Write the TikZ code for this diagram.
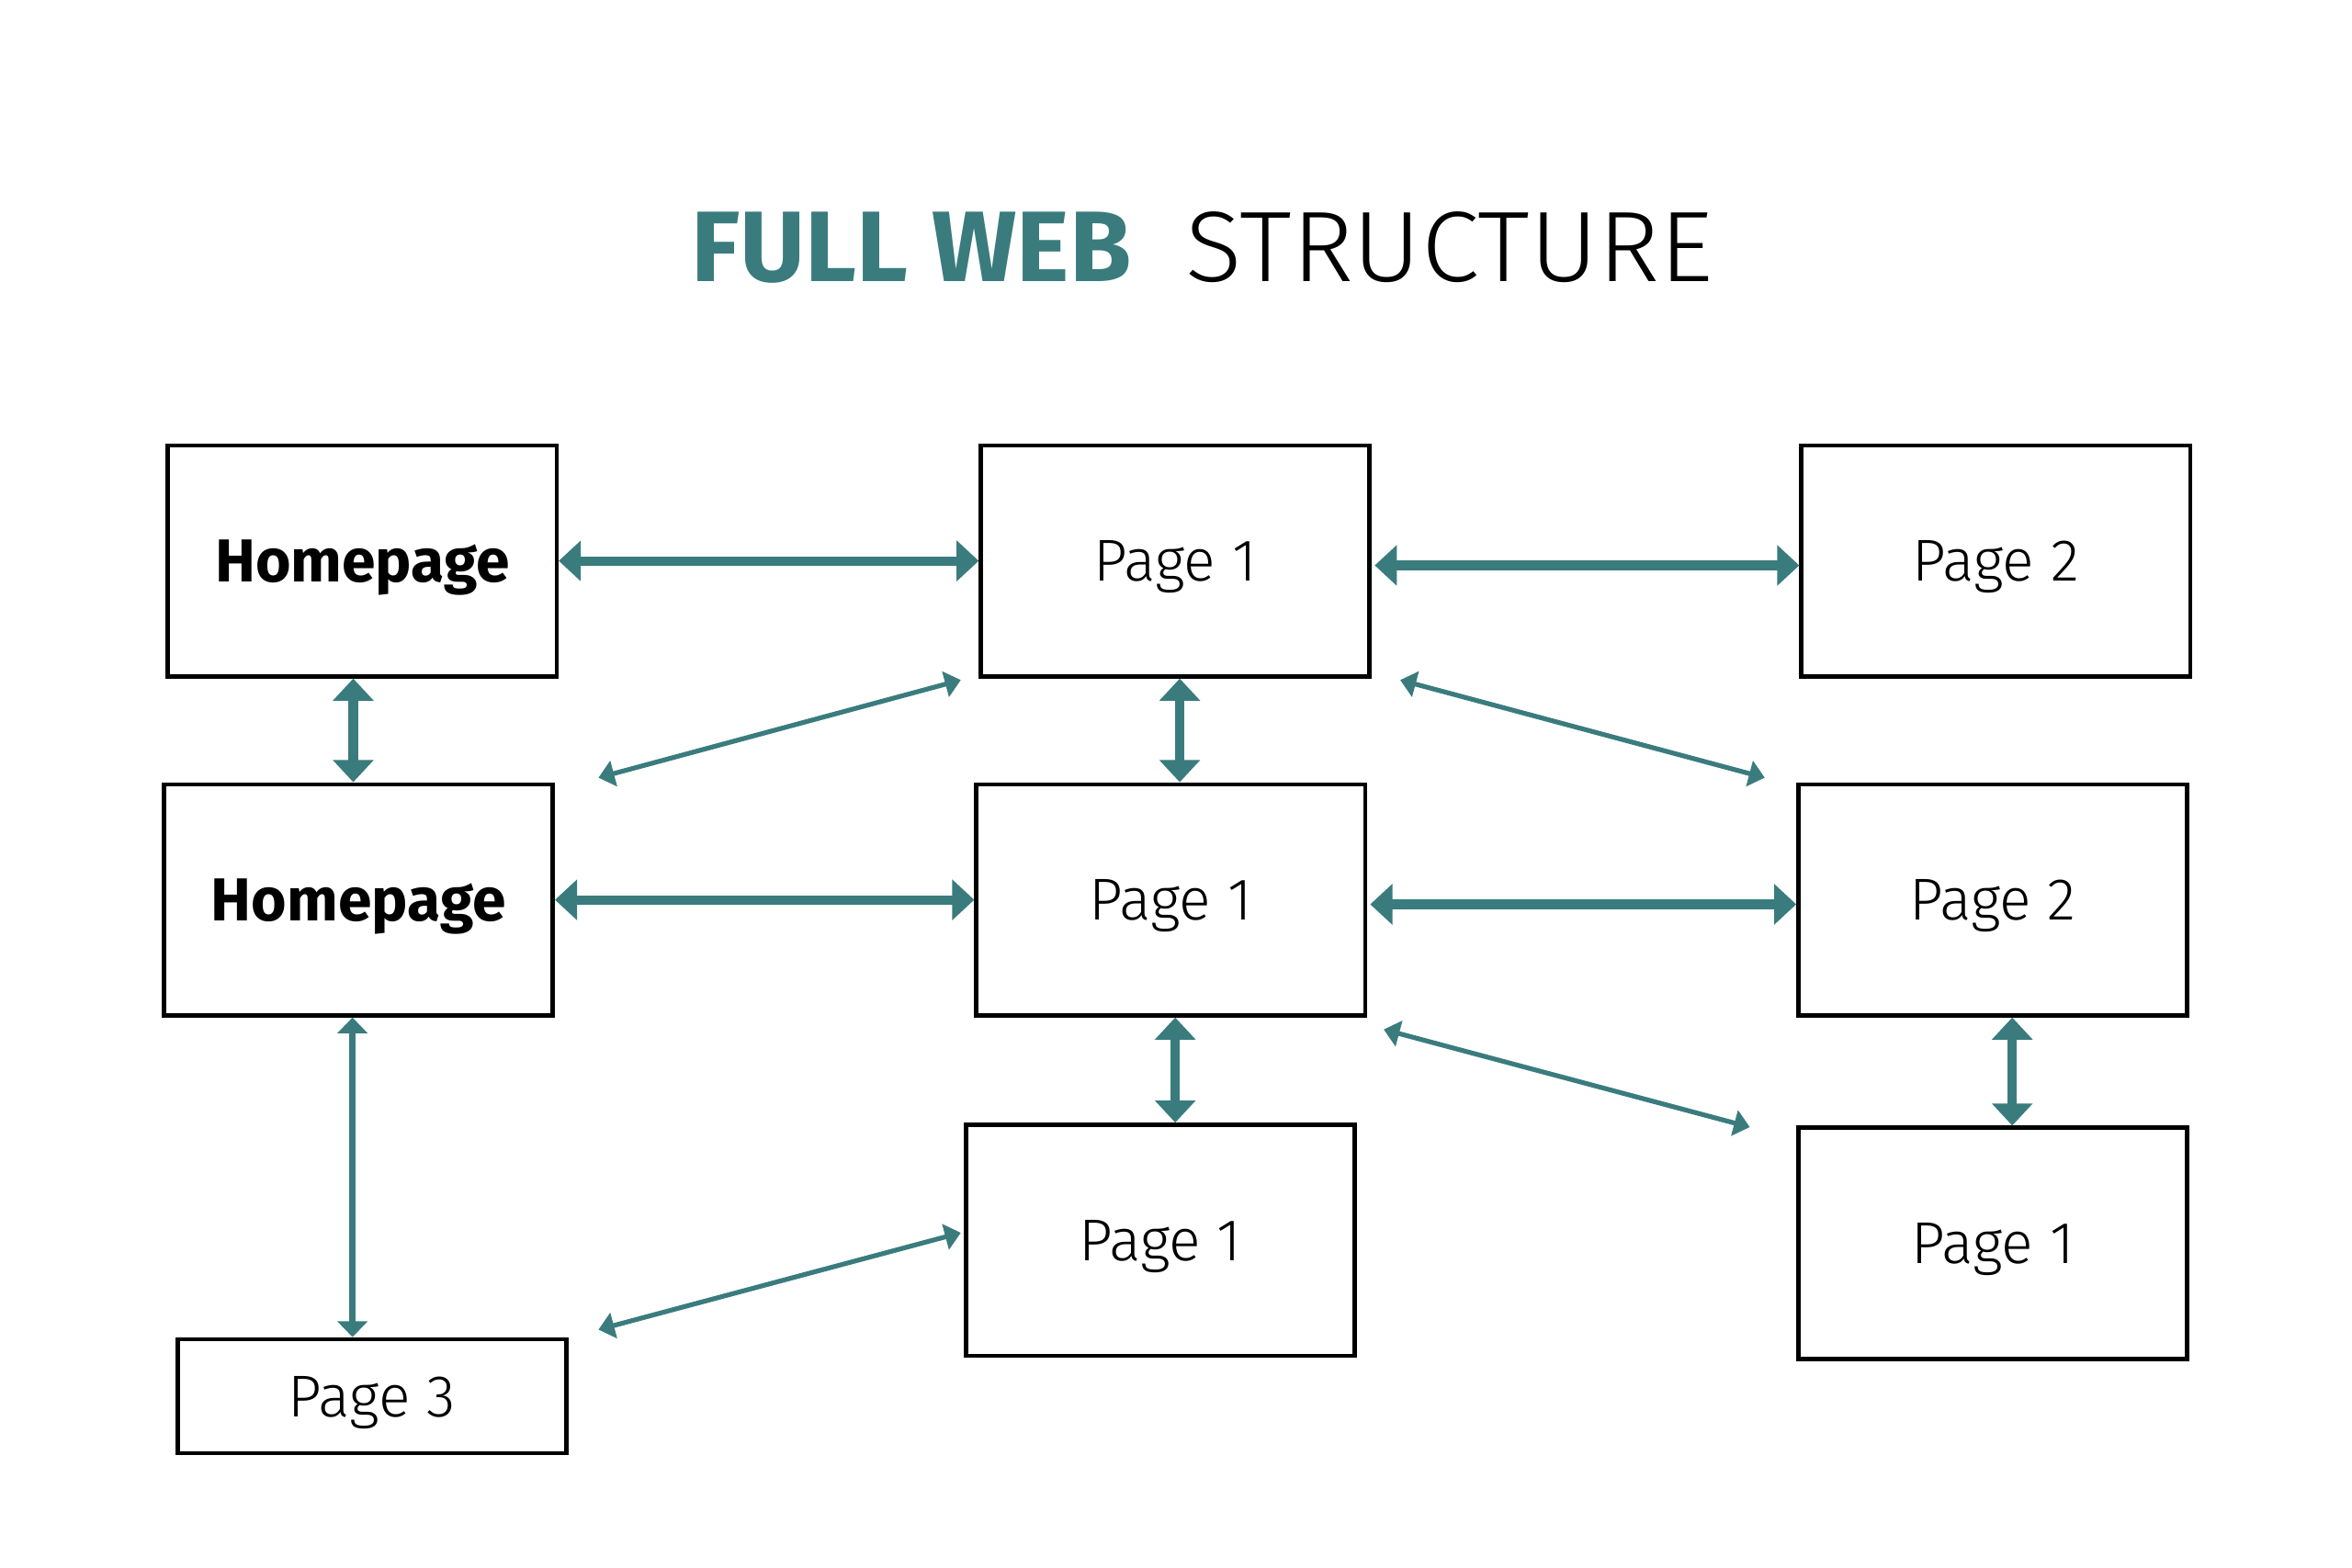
\documentclass[tikz,border=0pt]{standalone}
\usepackage{fontspec}
\setmainfont{Fira Sans Light}[BoldFont=Fira Sans Bold]
\newfontfamily\titlebold{Fira Sans Bold}
\newfontfamily\titlelight{Fira Sans Light}[FakeStretch=1.045]
\usetikzlibrary{arrows.meta,calc}
\definecolor{teal}{RGB}{58,124,126}
\begin{document}
\begin{tikzpicture}[x=0.01cm,y=-0.01cm,
  box/.style={draw=black,line width=0.8pt,minimum width=2.59cm,minimum height=1.54cm,inner sep=0pt,text depth=0pt,font=\fontsize{11.2}{13}\selectfont},
  hbox/.style={box,font=\fontsize{11.5}{13}\selectfont\bfseries},
  bigarrow/.style={draw=teal,line width=1.75pt,{Triangle[width=7.5pt,length=4.2pt]}-{Triangle[width=7.5pt,length=4.2pt]}},
  midarrow/.style={draw=teal,line width=1.3pt,{Triangle[width=5.6pt,length=3pt]}-{Triangle[width=5.6pt,length=3pt]}},
  thinarrow/.style={draw=teal,line width=0.9pt,{Triangle[width=4.9pt,length=3pt]}-{Triangle[width=4.9pt,length=3pt]}}]
\useasboundingbox[fill=white] (0,0) rectangle (1568,1045);
% title
\node[anchor=base east,inner sep=0pt,text=teal,font=\fontsize{19}{22}\titlebold] (t1) at (755,188) {FULL WEB};
\node[anchor=base west,inner sep=0pt,text=black,font=\fontsize{19}{22}\titlelight] (t2) at (790,188) {STRUCTURE};
% boxes
\node[hbox] (h1) at (241.5,374) {Homepage};
\node[box] (p1a) at (783.5,374) {Page 1};
\node[box] (p2a) at (1330.5,374) {Page 2};
\node[hbox] (h2) at (239,600) {Homepage};
\node[box] (p1b) at (780.5,600) {Page 1};
\node[box] (p2b) at (1328.5,600) {Page 2};
\node[box] (p1c) at (773.5,827) {Page 1};
\node[box] (p1d) at (1328.5,829) {Page 1};
\node[box,minimum height=0.76cm] (p3) at (248,931) {Page 3};
% horizontal arrows
\draw[bigarrow] (h1.east) -- (p1a.west);
\coordinate (c2) at ($(p1a.east)+(2,3)$);
\draw[bigarrow] (c2) -- (c2 -| p2a.west);
\draw[bigarrow] (h2.east) -- (p1b.west);
\coordinate (c8) at ($(p1b.east)+(2,3)$);
\draw[bigarrow] (c8) -- (c8 -| p2b.west);
% vertical arrows
\coordinate (c3) at ($(h1.south)+(-6,0)$);
\draw[bigarrow] (c3) -- (c3 |- h2.north);
\coordinate (c4) at ($(p1a.south)+(3,0)$);
\draw[bigarrow] (c4) -- (c4 |- p1b.north);
\coordinate (c10) at ($(p1b.south)+(3,0)$);
\draw[bigarrow] (c10) -- (c10 |- p1c.north);
\coordinate (c11) at ($(p2b.south)+(13,0)$);
\draw[bigarrow] (c11) -- (c11 |- p1d.north);
\coordinate (c9) at ($(h2.south)+(-4,0)$);
\draw[midarrow] (c9) -- (c9 |- p3.north);
% diagonal arrows
\coordinate (d5a) at ($(h2.north east)+(29,-3)$);
\coordinate (d5b) at ($(p1a.south west)+(-12,1)$);
\draw[thinarrow] (d5a) -- (d5b);
\coordinate (d6a) at ($(p1a.south east)+(19,1)$);
\coordinate (d6b) at ($(p2b.north west)+(-21,-3)$);
\draw[thinarrow] (d6a) -- (d6b);
\coordinate (d12a) at ($(p1b.south east)+(11,8)$);
\coordinate (d12b) at ($(p1d.north west)+(-31,1)$);
\draw[thinarrow] (d12a) -- (d12b);
\coordinate (d13a) at ($(p3.north east)+(20,-5)$);
\coordinate (d13b) at ($(p1c.west)+(-2,-5)$);
\draw[thinarrow] (d13a) -- (d13b);
\end{tikzpicture}
\end{document}
